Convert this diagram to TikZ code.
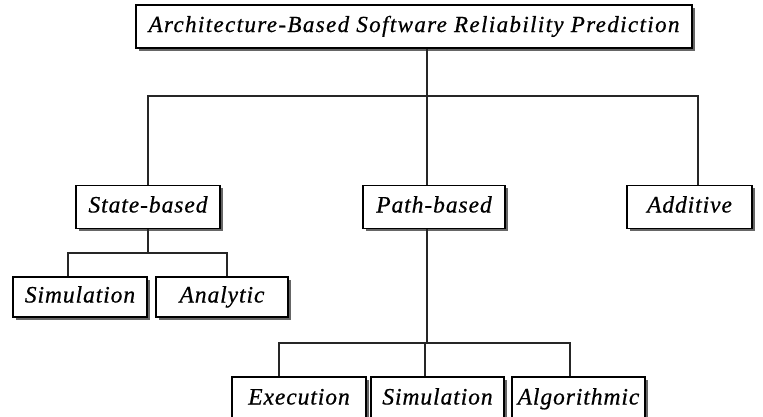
\documentclass[tikz,border=0pt]{standalone}
\usepackage{fontspec}
\setmainfont{Liberation Serif}
\newfontfamily\titlefont{Liberation Serif}[LetterSpace=6, FakeBold=0.6]
\newfontfamily\boxfont{Liberation Serif}[LetterSpace=4, FakeBold=0.6]
\usetikzlibrary{shadows}
\begin{document}
\begin{tikzpicture}[x=1pt,y=-1pt,
  box/.style={draw=black, line width=1.6pt, fill=white, inner sep=0pt,
    text height=1.1em, text depth=0pt,
    font=\boxfont\itshape\fontsize{23.5}{23.5}\selectfont,
    drop shadow={shadow xshift=2.5pt, shadow yshift=-2.5pt, fill=black!60, opacity=1}},
  link/.style={draw=black!85, line width=1.4pt}]
\useasboundingbox (0,0) rectangle (763,416);
\begin{scope}
\clip (0,0) rectangle (763,416);

% tree nodes
\node[box, minimum width=556pt, minimum height=43pt, font=\titlefont\itshape\fontsize{23}{23}\selectfont] (top) at (414,26.5) {Architecture-Based Software Reliability Prediction};

\node[box, minimum width=144pt, minimum height=43pt] (state) at (148,207) {State-based};
\node[box, minimum width=142pt, minimum height=43pt] (path) at (434,207) {Path-based};
\node[box, minimum width=125pt, minimum height=43pt] (add) at (689.5,207) {Additive};

\node[box, minimum width=134pt, minimum height=40pt] (sima) at (80,297) {Simulation};
\node[box, minimum width=132pt, minimum height=40pt] (ana) at (222,297) {Analytic};

\node[box, minimum width=134pt, minimum height=44pt] (exe) at (299,399) {Execution};
\node[box, minimum width=133pt, minimum height=44pt] (simb) at (437.5,399) {Simulation};
\node[box, minimum width=133pt, minimum height=44pt] (alg) at (578.5,399) {Algorithmic};

% junction points
\coordinate (jt) at (427,96);
\coordinate (ja) at (698,96);
\coordinate (js) at (148,253);
\coordinate (jsl) at (68,253);
\coordinate (jsr) at (227,253);
\coordinate (jp) at (427,343);
\coordinate (jpl) at (279,343);
\coordinate (jpm) at (425,343);
\coordinate (jpr) at (570,343);

% first level
\draw[link] (top.south -| jt) -- (jt);
\draw[link] (state.north) |- (jt) -- (ja) -- (add.north -| ja);
\draw[link] (jt) -- (path.north -| jt);

% state-based children
\draw[link] (state.south) -- (js);
\draw[link] (sima.north -| jsl) |- (jsr) -- (ana.north -| jsr);

% path-based children
\draw[link] (path.south -| jp) -- (jp);
\draw[link] (exe.north -| jpl) |- (jpr) -- (alg.north -| jpr);
\draw[link] (jpm) -- (simb.north -| jpm);
\end{scope}
\end{tikzpicture}
\end{document}
